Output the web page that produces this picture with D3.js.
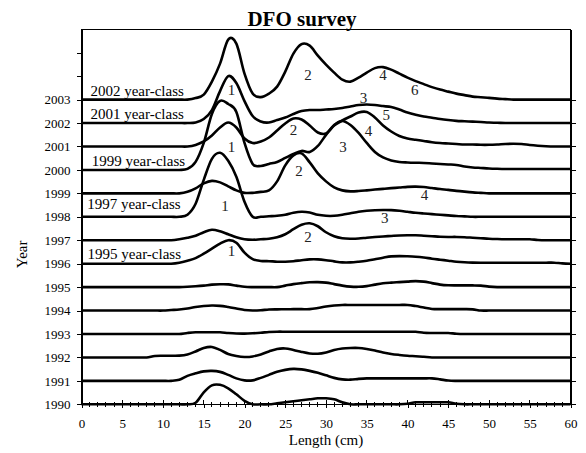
<!DOCTYPE html>
<html>
<head>
<meta charset="utf-8">
<script src="https://cdnjs.cloudflare.com/ajax/libs/d3/7.8.5/d3.min.js"></script>
<style>
  body { margin: 0; background: #fff; }
  svg text { font-family: "Liberation Serif", "Times New Roman", serif; fill: #000; }
  .axis path, .axis line, .minor line { stroke: #000; stroke-width: 1; shape-rendering: crispEdges; }
</style>
</head>
<body>
<svg id="chart"></svg>
<script>
// Length classes (cm)
var lengths = [0, 1, 2, 3, 4, 5, 6, 7, 8, 9, 10, 11, 12, 13, 14, 15, 16, 17, 18, 19, 20,
  21, 22, 23, 24, 25, 26, 27, 28, 29, 30, 31, 32, 33, 34, 35, 36, 37, 38, 39, 40,
  41, 42, 43, 44, 45, 46, 47, 48, 49, 50, 51, 52, 53, 54, 55, 56, 57, 58, 59, 60];

var years = ['1990', '1991', '1992', '1993', '1994', '1995', '1996',
  '1997', '1998', '1999', '2000', '2001', '2002', '2003'];

// Relative frequency by length, one array per survey year
var freq1990 = [0, 0, 0, 0, 0, 0, 0, 0, 0, 0, 0, 0, 0, 0, 1.5, 12, 19, 19.5, 16, 10,
  3.5, 0, 0, 0, 1, 2, 3, 4, 5, 6, 6, 5, 2, 0, 0, 0, 0, 0, 0, 0,
  0.5, 2, 2, 2, 2, 2, 0.5, 0, 0, 0, 0, 0, 0, 0, 0, 0, 0, 0, 0, 0, 0];
var freq1991 = [0, 0, 0, 0, 0, 0, 0, 0, 0, 0, 0, 0, 1, 5, 7.5, 9.5, 10, 9, 6, 2.5,
  0.5, 0.5, 3, 6, 9, 11, 12, 11.5, 10, 8, 5.5, 3, 1.5, 1.2, 2, 2.5, 2.5, 2.5, 2.5, 2.5,
  2.5, 2.5, 2.5, 2.5, 1.5, 0.3, 0, 0, 0, 0, 0, 0, 0, 0, 0, 0, 0, 0, 0, 0, 0];
var freq1992 = [0, 0, 0, 0, 0, 0, 0, 0, 0, 1.5, 1.7, 1.7, 1.8, 3, 6, 9.5, 10.5, 7.5, 3.5, 1.5,
  0.5, 1, 3, 6, 8.5, 9, 7.5, 5.5, 4, 3.7, 5, 7.5, 9, 9.5, 9.5, 8.5, 7, 5, 3.5, 2.5,
  1.7, 1.2, 0.6, 0, 0, 0, 0, 0, 0, 0, 0, 0, 0, 0, 0, 0, 0, 0, 0, 0, 0];
var freq1993 = [0, 0, 0, 0, 0, 0, 0, 0, 0, 0, 0, 0, 0, 1, 1.7, 1.7, 1.7, 1.7, 1, 0.5,
  0.4, 0.7, 1.2, 2, 2.3, 2.3, 2.3, 2.3, 2.3, 2.3, 2.3, 2.3, 2.3, 2.3, 2.3, 2.3, 2.3, 2.3, 2.3, 2.3,
  2.3, 2.2, 1.2, 1, 1, 1, 0.3, 0, 0, 0, 0, 0, 0, 0, 0, 0, 0, 0, 0, 0, 0];
var freq1994 = [0, 0, 0, 0, 0, 0, 0, 0, 0, 0, 0, 0.5, 1, 2, 3.5, 4.5, 5, 4.7, 3.5, 2,
  0.5, 0, 0.3, 1, 1.2, 1.3, 1.4, 1.4, 1.4, 2.5, 4, 5, 5.6, 5.6, 5.6, 5.6, 5.6, 5.6, 5.6, 5.6,
  5.6, 4.5, 3, 1.6, 1.4, 1.4, 1.4, 1.4, 1.2, 0, 0, 0, 0, 0, 0, 0, 0, 0, 0, 0, 0];
var freq1995 = [0, 0, 0, 0, 0, 0, 0, 0, 0, 0, 0, 0, 0, 0.3, 0.8, 1.5, 2.5, 2.8, 2.7, 1.5,
  0.3, 0, 0, 0, 0, 1.5, 3, 4, 4.8, 5, 4.5, 3, 1.5, 0.5, 0.3, 1, 2.5, 3.8, 4.5, 5,
  5.5, 6, 5.5, 4, 2.5, 1.8, 1.7, 1.7, 1.7, 1.5, 0.5, 0, 0, 0, 0, 0, 0, 0, 0, 0, 0];
var freq1996 = [0, 0, 0, 0, 0, 0, 0, 0, 0, 0, 0, 0, 1, 3, 5.5, 10, 15, 20, 23.5, 21,
  11, 4.5, 2.7, 2.5, 2, 2, 2.5, 3.5, 4.3, 4.3, 3.5, 2.3, 1.3, 1.3, 2, 3, 4.5, 6, 7.3, 7.6,
  7.4, 7, 6.2, 5, 4, 3, 2, 1.4, 1.1, 1, 1, 1, 1, 1, 1, 1, 1, 1, 1, 0.3, 0];
var freq1997 = [0, 0, 0, 0, 0, 0, 0, 0, 0, 0, 0, 0, 1, 2.5, 4.5, 8, 10.5, 9, 6, 3,
  1, 0.5, 1, 1.5, 3, 6, 11, 15.5, 17, 14, 8, 4, 2, 1.5, 1.7, 2.5, 3.2, 3.8, 4.3, 4.8,
  5, 5, 4.5, 4, 3.5, 3.3, 3.3, 3, 2.5, 2, 1.5, 1.2, 1, 1, 1, 1, 0.3, 0, 0, 0, 0];
var freq1998 = [0, 0, 0, 0, 0, 0, 0, 0, 0, 0, 0, 0, 0, 2, 13, 37, 58, 64, 56, 40,
  15, 0, 0, 0.5, 1, 2, 4, 5, 4.3, 2, 1, 1, 2, 3.5, 5, 6, 6.6, 6.8, 6.7, 6,
  5, 4, 3.3, 2.7, 2, 1.4, 0.8, 0.4, 0, 0, 0, 0, 0, 0, 0, 0, 0, 0, 0, 0, 0];
var freq1999 = [0, 0, 0, 0, 0, 0, 0, 0, 0, 0, 0, 0, 0, 1.5, 5, 10, 12.5, 11, 7, 3,
  0.5, 0.5, 1.5, 3, 12, 28, 38, 40, 31, 20, 12, 6, 3, 2, 2.3, 3, 3.8, 4.5, 5.2, 5.8,
  6.5, 6.7, 6.3, 5.3, 4.3, 3.5, 2.5, 1.7, 1, 0.5, 0, 0, 0, 0, 0, 0, 0, 0, 0, 0, 0];
var freq2000 = [0, 0, 0, 0, 0, 0, 0, 0, 0, 0, 0, 0, 0, 1, 8, 27, 56, 69, 66, 58,
  27, 6, 4, 6, 8, 12, 16, 19, 18, 24, 35, 45, 49, 45, 37, 27, 18, 12.5, 9.5, 8,
  7.5, 7.2, 7, 6.5, 6, 5.5, 5, 3.5, 2.5, 2, 1.5, 1.2, 1, 1, 1, 1, 1, 1, 1, 1, 1];
var freq2001 = [0, 0, 0, 0, 0, 0, 0, 0, 0, 0, 0, 0, 0, 0, 1.5, 5, 11, 19, 24, 19,
  8, 3.5, 5, 9, 16, 23, 28, 27, 21, 14, 13, 21, 26, 30, 34, 34.5, 29, 21, 15, 10.5,
  8, 6.7, 5.5, 4.3, 3.5, 3, 2.5, 2, 2, 1.7, 1.7, 2, 2.5, 2.7, 2.5, 1.5, 0.8, 0.3, 0, 0, 0];
var freq2002 = [0, 0, 0, 0, 0, 0, 0, 0, 0, 0, 0, 0, 0, 0, 0.5, 4, 13, 32, 47, 40,
  22, 7, 1.5, 0.5, 3, 5.5, 9, 12, 13, 13, 13.5, 14, 15, 16.5, 18, 18.5, 18, 17, 16, 13.5,
  10.5, 8.3, 6.5, 5.3, 4, 3, 2.2, 1.8, 1.4, 1, 0.5, 0.3, 0, 0, 0, 0, 0, 0, 0, 0, 0];
var freq2003 = [0, 0, 0, 0, 0, 0, 0, 0, 0, 0, 0, 0, 0, 0, 1.5, 5, 18, 36, 60, 56,
  26, 6, 2.5, 6, 13, 28, 46, 55.5, 54, 44, 35, 27, 20, 18, 22, 27, 31.5, 32.5, 30, 26,
  22, 18.5, 15.5, 12.5, 10, 8, 6, 4.5, 3, 2.4, 1.7, 1, 0.5, 0, 0, 0, 0, 0, 0, 0, 0];

// Age labels: text, length (cm), level (rows above 1990)
var ageText = ['1', '1', '1', '1', '2', '2', '2', '2', '3', '3', '3', '4', '4', '4', '5', '6'];
var ageLength = [18.4, 18.4, 17.6, 18.4, 27.8, 26.0, 26.7, 27.8, 34.6, 32.1, 37.2, 37.0, 35.2, 42.1, 37.4, 40.9];
var ageLevel = [13.4, 10.99, 8.48, 6.56, 14.04, 11.72, 9.96, 7.13, 13.07, 11.01, 7.97, 14.04, 11.68, 8.93, 12.34, 13.4];

// Year-class labels
var classText = ['2002 year-class', '2001 year-class', '1999 year-class', '1997 year-class', '1995 year-class'];
var classLength = [1.1, 1.1, 1.25, 0.7, 0.75];
var classLevel = [13.15, 12.17, 10.17, 8.32, 6.2];

var series = [freq1990, freq1991, freq1992, freq1993, freq1994, freq1995, freq1996,
  freq1997, freq1998, freq1999, freq2000, freq2001, freq2002, freq2003];

var width = 586;
var height = 453;
var margin = { top: 29.3, right: 15.5, bottom: 48.7, left: 81.5 };
var rowFreq = 23.45; // frequency equal to one row step

var svg = d3.select('#chart')
  .attr('width', width)
  .attr('height', height);

// Scales
var x = d3.scaleLinear()
  .domain([0, 60])
  .range([margin.left, width - margin.right]);

var y = d3.scaleLinear()
  .domain([0, 16])
  .range([height - margin.bottom, margin.top]);

// Frame
svg.append('rect')
  .attr('x', x(0))
  .attr('y', y(16))
  .attr('width', x(60) - x(0))
  .attr('height', y(0) - y(16))
  .attr('fill', 'none')
  .attr('stroke', '#000')
  .attr('shape-rendering', 'crispEdges');

// Axes
var yAxis = d3.axisLeft(y)
  .tickValues(d3.range(0, 16))
  .tickSizeInner(5)
  .tickSizeOuter(0)
  .tickPadding(6)
  .tickFormat(function(d) {
    return years[d] || '';
  });

svg.append('g')
  .attr('class', 'axis')
  .attr('transform', 'translate(' + x(0) + ',0)')
  .call(yAxis)
  .selectAll('text')
  .style('font-size', '13px');

svg.append('g')
  .attr('class', 'axis')
  .attr('transform', 'translate(' + x(60) + ',0)')
  .call(d3.axisRight(y).tickValues(d3.range(0, 14)).tickSizeInner(5).tickSizeOuter(0).tickFormat(''));

var xAxis = d3.axisBottom(x)
  .tickValues(d3.range(0, 61, 5))
  .tickSizeInner(4)
  .tickSizeOuter(0)
  .tickPadding(10.5);

svg.append('g')
  .attr('class', 'axis')
  .attr('transform', 'translate(0,' + y(0) + ')')
  .call(xAxis)
  .selectAll('text')
  .style('font-size', '13px');

// Minor ticks and upper half of major ticks
svg.append('g')
  .attr('class', 'minor')
  .selectAll('line')
  .data(d3.range(0, 61))
  .enter()
  .append('line')
  .attr('x1', function(d) { return x(d); })
  .attr('x2', function(d) { return x(d); })
  .attr('y1', function(d) { return y(0) - (d % 5 === 0 ? 4 : 2.5); })
  .attr('y2', function(d) { return y(0) + (d % 5 === 0 ? 0 : 2.5); });

// Ridge lines
var lineGroup = svg.append('g').classed('ridges', true);

series.forEach(function(values, i) {
  var line = d3.line()
    .curve(d3.curveCardinal.tension(0))
    .x(function(d, j) { return x(lengths[j]); })
    .y(function(d) { return y(i + d / rowFreq); });

  lineGroup.append('path')
    .datum(values)
    .attr('d', line)
    .attr('fill', 'none')
    .attr('stroke', '#000')
    .attr('stroke-width', 2.6)
    .attr('stroke-linejoin', 'round');
});

// Labels
svg.append('g')
  .selectAll('text')
  .data(classText)
  .enter()
  .append('text')
  .attr('x', function(d, i) { return x(classLength[i]); })
  .attr('y', function(d, i) { return y(classLevel[i]); })
  .style('font-size', '15px')
  .text(function(d) { return d; });

svg.append('g')
  .selectAll('text')
  .data(ageText)
  .enter()
  .append('text')
  .attr('x', function(d, i) { return x(ageLength[i]); })
  .attr('y', function(d, i) { return y(ageLevel[i]); })
  .attr('dy', '0.35em')
  .attr('text-anchor', 'middle')
  .style('font-size', '15px')
  .style('fill', '#222')
  .text(function(d) { return d; });

svg.append('text')
  .attr('x', 302)
  .attr('y', 26)
  .attr('text-anchor', 'middle')
  .style('font-size', '21px')
  .style('font-weight', 'bold')
  .text('DFO survey');

svg.append('text')
  .attr('x', (x(0) + x(60)) / 2)
  .attr('y', 445)
  .attr('text-anchor', 'middle')
  .style('font-size', '15px')
  .text('Length (cm)');

svg.append('text')
  .attr('transform', 'translate(26.5,' + y(6.4) + ') rotate(-90)')
  .attr('text-anchor', 'middle')
  .style('font-size', '15px')
  .text('Year');
</script>
</body>
</html>
